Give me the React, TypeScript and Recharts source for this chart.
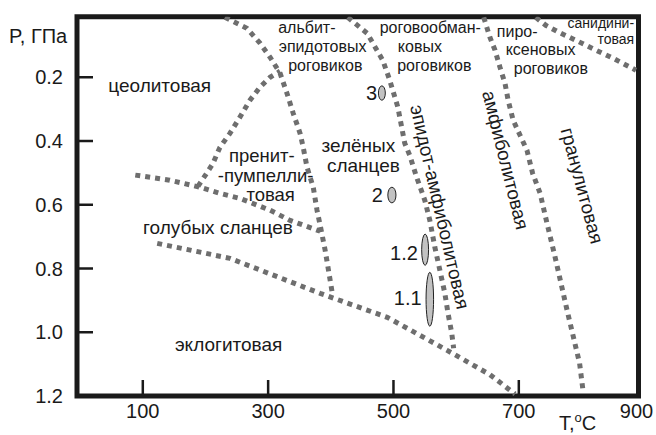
import React from "react";
import { LineChart, Line, XAxis, YAxis, ReferenceArea, ReferenceDot } from "recharts";

const FONT = '"Liberation Sans", Arial, sans-serif';
const INK = "#1a1a1a";
const GREY = "#6e6e6e";

// facies boundaries: t in °C, p in GPa
const zeoliteGreenschist = [
  { t: 231, p: 0.012 }, { t: 266, p: 0.046 }, { t: 287, p: 0.093 }, { t: 303, p: 0.137 },
  { t: 319, p: 0.187 }, { t: 330, p: 0.25 }, { t: 340, p: 0.313 }, { t: 351, p: 0.376 },
  { t: 356, p: 0.42 }, { t: 362, p: 0.482 }, { t: 372, p: 0.545 }, { t: 378, p: 0.617 },
  { t: 383, p: 0.664 }, { t: 391, p: 0.743 }, { t: 399, p: 0.837 }, { t: 403, p: 0.885 },
];
const zeolitePrehnite = [
  { t: 188, p: 0.542 }, { t: 202, p: 0.501 }, { t: 212, p: 0.47 }, { t: 223, p: 0.42 },
  { t: 239, p: 0.376 }, { t: 255, p: 0.325 }, { t: 271, p: 0.272 }, { t: 287, p: 0.231 },
  { t: 303, p: 0.2 }, { t: 319, p: 0.181 },
];
const blueschistTop = [
  { t: 88, p: 0.507 }, { t: 143, p: 0.523 }, { t: 191, p: 0.545 }, { t: 223, p: 0.564 },
  { t: 255, p: 0.58 }, { t: 303, p: 0.617 }, { t: 335, p: 0.649 }, { t: 383, p: 0.683 },
];
const eclogiteTop = [
  { t: 123, p: 0.721 }, { t: 239, p: 0.768 }, { t: 383, p: 0.878 }, { t: 490, p: 0.953 },
  { t: 585, p: 1.056 }, { t: 654, p: 1.133 }, { t: 694, p: 1.194 },
];
const greenschistEpidote = [
  { t: 427, p: 0.012 }, { t: 458, p: 0.062 }, { t: 483, p: 0.147 }, { t: 494, p: 0.209 },
  { t: 507, p: 0.294 }, { t: 518, p: 0.407 }, { t: 526, p: 0.445 }, { t: 537, p: 0.514 },
  { t: 550, p: 0.586 }, { t: 558, p: 0.649 }, { t: 566, p: 0.733 }, { t: 574, p: 0.805 },
  { t: 582, p: 0.878 }, { t: 587, p: 0.94 }, { t: 593, p: 1.003 }, { t: 596, p: 1.05 },
];
const amphiboliteGranulite = [
  { t: 644, p: 0.012 }, { t: 654, p: 0.075 }, { t: 662, p: 0.115 }, { t: 670, p: 0.169 },
  { t: 678, p: 0.219 }, { t: 683, p: 0.272 }, { t: 691, p: 0.335 }, { t: 702, p: 0.382 },
  { t: 713, p: 0.429 }, { t: 722, p: 0.501 }, { t: 734, p: 0.564 }, { t: 745, p: 0.658 },
  { t: 758, p: 0.765 }, { t: 777, p: 0.931 }, { t: 797, p: 1.097 }, { t: 802, p: 1.176 },
];
const sanidinite = [
  { t: 727, p: 0.012 }, { t: 743, p: 0.037 }, { t: 764, p: 0.059 }, { t: 791, p: 0.084 },
  { t: 823, p: 0.115 }, { t: 850, p: 0.14 }, { t: 887, p: 0.178 },
];

const boundaries = [
  zeoliteGreenschist, zeolitePrehnite, blueschistTop, eclogiteTop,
  greenschistEpidote, amphiboliteGranulite, sanidinite,
];

// P-T estimates for the samples
const sampleNames = ["3", "2", "1.2", "1.1"];
const sampleT = [[476, 487], [491, 504], [545, 556], [552, 564]];
const sampleP = [[0.227, 0.272], [0.545, 0.594], [0.692, 0.79], [0.812, 0.981]];

const xTicks = [100, 300, 500, 700, 891];
const xTickLabels = ["100", "300", "500", "700", "900"];
const yTicks = [0.2, 0.4, 0.6, 0.8, 1.0, 1.2];

// facies names, anchored in T/P
const faciesLabels = [
  { text: "цеолитовая", t: 127, p: 0.247, size: 19, anchor: "middle" },
  { text: "пренит-", t: 290, p: 0.467, size: 18.5, anchor: "middle" },
  { text: "-пумпелли-", t: 296, p: 0.529, size: 18.5, anchor: "middle" },
  { text: "товая", t: 304, p: 0.588, size: 18.5, anchor: "middle" },
  { text: "зелёных", t: 444, p: 0.435, size: 19, anchor: "middle" },
  { text: "сланцев", t: 452, p: 0.498, size: 19, anchor: "middle" },
  { text: "голубых сланцев", t: 220, p: 0.693, size: 19, anchor: "middle" },
  { text: "эклогитовая", t: 237, p: 1.06, size: 19, anchor: "middle" },
  { text: "альбит-", t: 316, p: 0.062, size: 16, anchor: "start" },
  { text: "эпидотовых", t: 317, p: 0.122, size: 16, anchor: "start" },
  { text: "роговиков", t: 332, p: 0.181, size: 16, anchor: "start" },
  { text: "роговообман-", t: 478, p: 0.062, size: 16, anchor: "start" },
  { text: "ковых", t: 507, p: 0.122, size: 16, anchor: "start" },
  { text: "роговиков", t: 506, p: 0.181, size: 16, anchor: "start" },
  { text: "пиро-", t: 665, p: 0.074, size: 16, anchor: "start" },
  { text: "ксеновых", t: 679, p: 0.131, size: 16, anchor: "start" },
  { text: "роговиков", t: 692, p: 0.19, size: 16, anchor: "start" },
  { text: "санидини-", t: 884, p: 0.046, size: 14, anchor: "end" },
  { text: "товая", t: 884, p: 0.097, size: 14, anchor: "end" },
];
const rotatedLabels = [
  { text: "эпидот-амфиболитовая", t: 574, p: 0.607, angle: 77 },
  { text: "амфиболитовая", t: 679, p: 0.46, angle: 76 },
  { text: "гранулитовая", t: 801, p: 0.54, angle: 75 },
];
const sampleLabels = [
  { text: "3", t: 474, p: 0.272 },
  { text: "2", t: 483, p: 0.592 },
  { text: "1.2", t: 539, p: 0.774 },
  { text: "1.1", t: 545, p: 0.915 },
];

const XTick = ({ x, y, payload }: any) => {
  const i = xTicks.indexOf(payload.value);
  const last = i === xTicks.length - 1;
  return (
    <g>
      {!last && <line x1={x} x2={x} y1={y} y2={y - 16} stroke={INK} strokeWidth={2.5} />}
      <text x={last ? x - 2 : x} y={y + 22} textAnchor="middle" fontSize={20} fill={INK} fontFamily={FONT}>
        {xTickLabels[i]}
      </text>
    </g>
  );
};

const YTick = ({ x, y, payload }: any) => (
  <g>
    <line x1={x} x2={x + 16} y1={y} y2={y} stroke={INK} strokeWidth={2.5} />
    <text x={x - 14} y={y + 7} textAnchor="end" fontSize={20} fill={INK} fontFamily={FONT}>
      {payload.value.toFixed(1)}
    </text>
  </g>
);

const EllipseShape = (props: any) => {
  const { x, y, width, height } = props;
  return (
    <ellipse
      cx={x + width / 2}
      cy={y + height / 2}
      rx={Math.abs(width) / 2}
      ry={Math.abs(height) / 2}
      fill="#c2c2c2"
      stroke="#222"
      strokeWidth={1}
    />
  );
};

export default function App() {
  return (
    <div style={{ position: "absolute", left: 0, top: 0, width: 656, height: 435, background: "#fff" }}>
      <LineChart width={656} height={435} margin={{ top: 16.7, right: 17.5, bottom: 0, left: 0 }}>
        <XAxis
          type="number"
          dataKey="t"
          domain={[-5, 891]}
          allowDataOverflow
          ticks={xTicks}
          interval={0}
          axisLine={false}
          tickLine={false}
          tickSize={0}
          tickMargin={0}
          height={39}
          tick={<XTick />}
        />
        <YAxis
          type="number"
          dataKey="p"
          domain={[0.01, 1.2]}
          allowDataOverflow
          reversed
          ticks={yTicks}
          interval={0}
          axisLine={false}
          tickLine={false}
          tickSize={0}
          tickMargin={0}
          width={77}
          tick={<YTick />}
        />
        {boundaries.map((b, i) => (
          <Line
            key={`b-${i}`}
            data={b}
            dataKey="p"
            type="linear"
            stroke={GREY}
            strokeWidth={5}
            strokeDasharray="5 5"
            dot={false}
            activeDot={false}
            isAnimationActive={false}
          />
        ))}
        {sampleNames.map((n, i) => (
          <ReferenceArea
            key={`s-${n}`}
            x1={sampleT[i][0]}
            x2={sampleT[i][1]}
            y1={sampleP[i][0]}
            y2={sampleP[i][1]}
            shape={EllipseShape}
          />
        ))}
        {faciesLabels.map((l, i) => (
          <ReferenceDot
            key={`f-${i}`}
            x={l.t}
            y={l.p}
            r={0}
            shape={(p: any) => (
              <text x={p.cx} y={p.cy} textAnchor={l.anchor as any} fontSize={l.size} fill={INK} fontFamily={FONT}>
                {l.text}
              </text>
            )}
          />
        ))}
        {rotatedLabels.map((l, i) => (
          <ReferenceDot
            key={`r-${i}`}
            x={l.t}
            y={l.p}
            r={0}
            shape={(p: any) => (
              <text
                x={p.cx}
                y={p.cy}
                textAnchor="middle"
                dominantBaseline="central"
                transform={`rotate(${l.angle} ${p.cx} ${p.cy})`}
                fontSize={19}
                fill={INK}
                fontFamily={FONT}
              >
                {l.text}
              </text>
            )}
          />
        ))}
        {sampleLabels.map((l, i) => (
          <ReferenceDot
            key={`n-${i}`}
            x={l.t}
            y={l.p}
            r={0}
            shape={(p: any) => (
              <text x={p.cx} y={p.cy} textAnchor="end" fontSize={20} fill={INK} fontFamily={FONT}>
                {l.text}
              </text>
            )}
          />
        ))}
        <ReferenceArea x1={-5} x2={891} y1={0.01} y2={1.2} fill="none" fillOpacity={0} stroke={INK} strokeWidth={5} />
        <text x={9} y={43} fontSize={20} fill={INK} fontFamily={FONT}>
          P, ГПа
        </text>
        <text x={559} y={430} fontSize={20} fill={INK} fontFamily={FONT}>
          T,
          <tspan dy={-8} fontSize={13}>o</tspan>
          <tspan dy={8}>C</tspan>
        </text>
      </LineChart>
    </div>
  );
}
